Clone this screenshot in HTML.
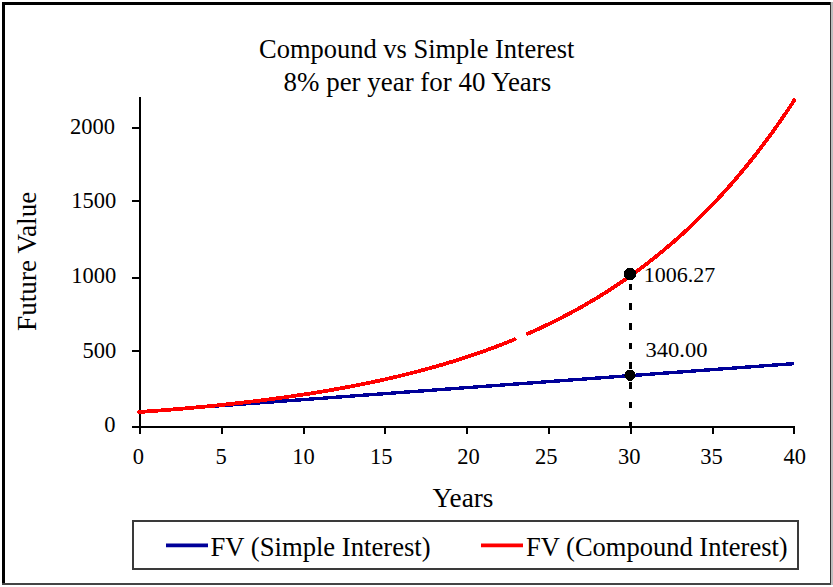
<!DOCTYPE html>
<html><head><meta charset="utf-8"><style>
html,body{margin:0;padding:0;background:#fff;}
body{width:833px;height:587px;overflow:hidden;position:relative;}
svg{position:absolute;left:0;top:0;}
text{font-family:"Liberation Serif",serif;fill:#000;}
</style></head><body>
<svg width="833" height="587" viewBox="0 0 833 587">
<rect x="0" y="0" width="833" height="587" fill="#fff"/>
<rect x="831" y="2" width="2" height="583" fill="#bdbdbd"/>
<rect x="2" y="2" width="3" height="583" fill="#000"/>
<rect x="2" y="2" width="829" height="3" fill="#000"/>
<rect x="830" y="2" width="1" height="583" fill="#333"/>
<rect x="2" y="583" width="829" height="2" fill="#444"/>
<text x="259.10" y="58.20" font-size="27" textLength="315.30" lengthAdjust="spacingAndGlyphs">Compound vs Simple Interest</text>
<text x="283.55" y="91.40" font-size="27" textLength="267.70" lengthAdjust="spacingAndGlyphs">8% per year for 40 Years</text>
<text x="70.00" y="133.80" font-size="22.5">2000</text>
<text x="71.35" y="208.40" font-size="22.5">1500</text>
<text x="71.35" y="283.00" font-size="22.5">1000</text>
<text x="82.60" y="357.55" font-size="22.5">500</text>
<text x="104.20" y="431.75" font-size="22.5">0</text>
<text x="132.70" y="464.00" font-size="22.5">0</text>
<text x="215.40" y="464.00" font-size="22.5">5</text>
<text x="292.25" y="464.00" font-size="22.5">10</text>
<text x="370.00" y="464.00" font-size="22.5">15</text>
<text x="457.20" y="464.00" font-size="22.5">20</text>
<text x="534.95" y="464.00" font-size="22.5">25</text>
<text x="618.10" y="464.00" font-size="22.5">30</text>
<text x="700.35" y="464.00" font-size="22.5">35</text>
<text x="783.50" y="464.00" font-size="22.5">40</text>
<text x="432.55" y="507.40" font-size="27" textLength="60.90" lengthAdjust="spacingAndGlyphs">Years</text>
<text transform="translate(35.80,330.90) rotate(-90)" font-size="27" textLength="139.20" lengthAdjust="spacingAndGlyphs">Future Value</text>
<text x="643.75" y="281.50" font-size="22">1006.27</text>
<text x="645.55" y="357.40" font-size="22" textLength="61.90" lengthAdjust="spacingAndGlyphs">340.00</text>
<text x="210.55" y="555.95" font-size="26.5" textLength="220.10" lengthAdjust="spacingAndGlyphs">FV (Simple Interest)</text>
<text x="526.10" y="555.50" font-size="26.5">FV (Compound Interest)</text>
<g fill="#000" shape-rendering="crispEdges">
<rect x="139" y="97" width="2" height="331"/>
<rect x="139" y="426" width="656" height="2"/>
<rect x="132" y="426" width="8" height="2"/><rect x="132" y="350" width="8" height="2"/><rect x="132" y="277" width="8" height="2"/><rect x="132" y="200" width="8" height="2"/><rect x="132" y="127" width="8" height="2"/><rect x="139.0" y="427" width="2" height="7"/><rect x="220.8" y="427" width="2" height="7"/><rect x="302.6" y="427" width="2" height="7"/><rect x="384.4" y="427" width="2" height="7"/><rect x="466.2" y="427" width="2" height="7"/><rect x="548.0" y="427" width="2" height="7"/><rect x="629.8" y="427" width="2" height="7"/><rect x="711.6" y="427" width="2" height="7"/><rect x="793.4" y="427" width="2" height="7"/>
</g>
<g fill="none" stroke-linejoin="round" shape-rendering="crispEdges">
<path d="M205.44,406.80 L794.40,363.60" stroke="#000099" stroke-width="3.4"/>
<path d="M139.00,411.95 L140.00,411.95 L141.64,411.83 L143.27,411.72 L144.91,411.60 L146.54,411.48 L148.18,411.36 L149.82,411.24 L151.45,411.12 L153.09,410.99 L154.72,410.87 L156.36,410.75 L158.00,410.62 L159.63,410.49 L161.27,410.37 L162.90,410.24 L164.54,410.11 L166.18,409.98 L167.81,409.85 L169.45,409.71 L171.08,409.58 L172.72,409.45 L174.36,409.31 L175.99,409.17 L177.63,409.04 L179.26,408.90 L180.90,408.76 L182.54,408.62 L184.17,408.47 L185.81,408.33 L187.44,408.19 L189.08,408.04 L190.72,407.89 L192.35,407.75 L193.99,407.60 L195.62,407.45 L197.26,407.30 L198.90,407.15 L200.53,406.99 L202.17,406.84 L203.80,406.68 L205.44,406.52 L207.08,406.37 L208.71,406.21 L210.35,406.05 L211.98,405.88 L213.62,405.72 L215.26,405.56 L216.89,405.39 L218.53,405.22 L220.16,405.06 L221.80,404.89 L223.44,404.72 L225.07,404.54 L226.71,404.37 L228.34,404.20 L229.98,404.02 L231.62,403.84 L233.25,403.66 L234.89,403.48 L236.52,403.30 L238.16,403.12 L239.80,402.93 L241.43,402.75 L243.07,402.56 L244.70,402.37 L246.34,402.18 L247.98,401.99 L249.61,401.80 L251.25,401.60 L252.88,401.40 L254.52,401.21 L256.16,401.01 L257.79,400.81 L259.43,400.60 L261.06,400.40 L262.70,400.20 L264.34,399.99 L265.97,399.78 L267.61,399.57 L269.24,399.36 L270.88,399.14 L272.52,398.93 L274.15,398.71 L275.79,398.49 L277.42,398.27 L279.06,398.05 L280.70,397.83 L282.33,397.60 L283.97,397.37 L285.60,397.15 L287.24,396.91 L288.88,396.68 L290.51,396.45 L292.15,396.21 L293.78,395.97 L295.42,395.73 L297.06,395.49 L298.69,395.25 L300.33,395.00 L301.96,394.76 L303.60,394.51 L305.24,394.26 L306.87,394.00 L308.51,393.75 L310.14,393.49 L311.78,393.23 L313.42,392.97 L315.05,392.71 L316.69,392.44 L318.32,392.18 L319.96,391.91 L321.60,391.64 L323.23,391.36 L324.87,391.09 L326.50,390.81 L328.14,390.53 L329.78,390.25 L331.41,389.97 L333.05,389.68 L334.68,389.39 L336.32,389.10 L337.96,388.81 L339.59,388.51 L341.23,388.22 L342.86,387.92 L344.50,387.61 L346.14,387.31 L347.77,387.00 L349.41,386.69 L351.04,386.38 L352.68,386.07 L354.32,385.75 L355.95,385.43 L357.59,385.11 L359.22,384.79 L360.86,384.46 L362.50,384.14 L364.13,383.80 L365.77,383.47 L367.40,383.13 L369.04,382.80 L370.68,382.45 L372.31,382.11 L373.95,381.76 L375.58,381.41 L377.22,381.06 L378.86,380.71 L380.49,380.35 L382.13,379.99 L383.76,379.62 L385.40,379.26 L387.04,378.89 L388.67,378.52 L390.31,378.14 L391.94,377.77 L393.58,377.39 L395.22,377.00 L396.85,376.62 L398.49,376.23 L400.12,375.83 L401.76,375.44 L403.40,375.04 L405.03,374.64 L406.67,374.24 L408.30,373.83 L409.94,373.42 L411.58,373.00 L413.21,372.59 L414.85,372.17 L416.48,371.74 L418.12,371.31 L419.76,370.88 L421.39,370.45 L423.03,370.01 L424.66,369.57 L426.30,369.13 L427.94,368.68 L429.57,368.23 L431.21,367.78 L432.84,367.32 L434.48,366.86 L436.12,366.40 L437.75,365.93 L439.39,365.46 L441.02,364.98 L442.66,364.50 L444.30,364.02 L445.93,363.53 L447.57,363.04 L449.20,362.55 L450.84,362.05 L452.48,361.55 L454.11,361.04 L455.75,360.53 L457.38,360.02 L459.02,359.50 L460.66,358.98 L462.29,358.45 L463.93,357.92 L465.56,357.39 L467.20,356.85 L468.84,356.31 L470.47,355.76 L472.11,355.21 L473.74,354.66 L475.38,354.10 L477.02,353.54 L478.65,352.97 L480.29,352.40 L481.92,351.82 L483.56,351.24 L485.20,350.66 L486.83,350.07 L488.47,349.47 L490.10,348.87 L491.74,348.27 L493.38,347.66 L495.01,347.05 L496.65,346.43 L498.28,345.81 L499.92,345.18 L501.56,344.55 L503.19,343.91 L504.83,343.27 L506.46,342.62 L508.10,341.97 L509.74,341.31 L511.37,340.65 L513.01,339.98 L514.64,339.31" stroke="#ff0000" stroke-width="3.8" stroke-linecap="round"/>
<path d="M527.73,333.74 L529.37,333.02 L531.00,332.30 L532.64,331.57 L534.28,330.83 L535.91,330.08 L537.55,329.34 L539.18,328.58 L540.82,327.82 L542.46,327.06 L544.09,326.28 L545.73,325.50 L547.36,324.72 L549.00,323.93 L550.64,323.13 L552.27,322.33 L553.91,321.52 L555.54,320.71 L557.18,319.89 L558.82,319.06 L560.45,318.23 L562.09,317.39 L563.72,316.54 L565.36,315.68 L567.00,314.82 L568.63,313.96 L570.27,313.08 L571.90,312.20 L573.54,311.32 L575.18,310.42 L576.81,309.52 L578.45,308.62 L580.08,307.70 L581.72,306.78 L583.36,305.85 L584.99,304.91 L586.63,303.97 L588.26,303.02 L589.90,302.06 L591.54,301.10 L593.17,300.13 L594.81,299.15 L596.44,298.16 L598.08,297.16 L599.72,296.16 L601.35,295.15 L602.99,294.13 L604.62,293.10 L606.26,292.07 L607.90,291.03 L609.53,289.98 L611.17,288.92 L612.80,287.85 L614.44,286.78 L616.08,285.69 L617.71,284.60 L619.35,283.50 L620.98,282.39 L622.62,281.27 L624.26,280.15 L625.89,279.01 L627.53,277.87 L629.16,276.72 L630.80,275.56 L632.44,274.39 L634.07,273.21 L635.71,272.02 L637.34,270.82 L638.98,269.62 L640.62,268.40 L642.25,267.17 L643.89,265.94 L645.52,264.70 L647.16,263.44 L648.80,262.18 L650.43,260.90 L652.07,259.62 L653.70,258.33 L655.34,257.03 L656.98,255.71 L658.61,254.39 L660.25,253.06 L661.88,251.71 L663.52,250.36 L665.16,248.99 L666.79,247.62 L668.43,246.23 L670.06,244.83 L671.70,243.43 L673.34,242.01 L674.97,240.58 L676.61,239.14 L678.24,237.69 L679.88,236.23 L681.52,234.75 L683.15,233.27 L684.79,231.77 L686.42,230.26 L688.06,228.74 L689.70,227.21 L691.33,225.67 L692.97,224.11 L694.60,222.54 L696.24,220.96 L697.88,219.37 L699.51,217.77 L701.15,216.15 L702.78,214.52 L704.42,212.88 L706.06,211.23 L707.69,209.56 L709.33,207.88 L710.96,206.19 L712.60,204.48 L714.24,202.76 L715.87,201.03 L717.51,199.28 L719.14,197.52 L720.78,195.75 L722.42,193.96 L724.05,192.16 L725.69,190.35 L727.32,188.52 L728.96,186.68 L730.60,184.82 L732.23,182.95 L733.87,181.07 L735.50,179.17 L737.14,177.25 L738.78,175.32 L740.41,173.38 L742.05,171.42 L743.68,169.44 L745.32,167.45 L746.96,165.45 L748.59,163.43 L750.23,161.39 L751.86,159.34 L753.50,157.27 L755.14,155.19 L756.77,153.09 L758.41,150.97 L760.04,148.84 L761.68,146.69 L763.32,144.52 L764.95,142.34 L766.59,140.14 L768.22,137.93 L769.86,135.69 L771.50,133.44 L773.13,131.17 L774.77,128.89 L776.40,126.59 L778.04,124.26 L779.68,121.93 L781.31,119.57 L782.95,117.19 L784.58,114.80 L786.22,112.39 L787.86,109.96 L789.49,107.51 L791.13,105.04 L792.76,102.55 L794.40,100.05" stroke="#ff0000" stroke-width="3.8" stroke-linecap="round"/>
</g>
<line x1="630" y1="274" x2="630" y2="428" stroke="#000" stroke-width="3" stroke-dasharray="6.5 13.2" stroke-dashoffset="-9.6" shape-rendering="crispEdges"/>
<circle cx="630" cy="274" r="6.3" fill="#000" shape-rendering="crispEdges"/>
<circle cx="630" cy="375.2" r="5.6" fill="#000" shape-rendering="crispEdges"/>
<rect x="133" y="521" width="665" height="48" fill="none" stroke="#3a3a3a" stroke-width="2"/>
<line x1="166" y1="545.3" x2="208" y2="545.3" stroke="#000099" stroke-width="3.8"/>
<line x1="481" y1="545.3" x2="523" y2="545.3" stroke="#ff0000" stroke-width="3.8"/>
</svg>
</body></html>
